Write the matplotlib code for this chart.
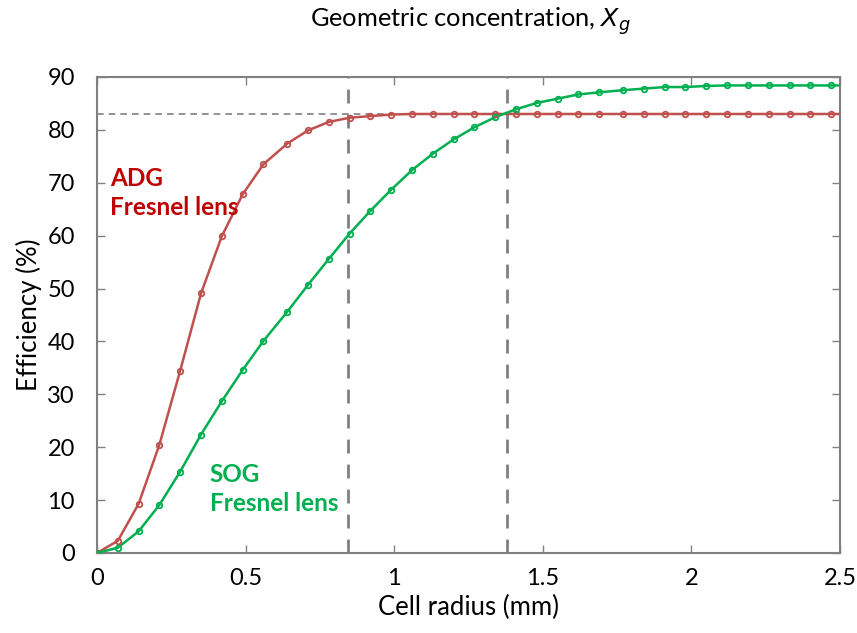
import matplotlib
matplotlib.use("Agg")
import matplotlib.pyplot as plt

plt.rcParams['font.family'] = ['Lato', 'DejaVu Sans']

# Cell radius (mm) for the sampled points
radius = [0.00, 0.07, 0.14, 0.21, 0.28, 0.35, 0.42, 0.49, 0.56, 0.64,
          0.71, 0.78, 0.85, 0.92, 0.99, 1.06, 1.13, 1.20, 1.27, 1.34,
          1.41, 1.48, 1.55, 1.62, 1.69, 1.77, 1.84, 1.91, 1.98, 2.05,
          2.12, 2.19, 2.26, 2.33, 2.40, 2.47]

adg = [0.0, 2.3, 9.3, 20.5, 34.5, 49.1, 59.9, 67.8, 73.5, 77.4,
       79.9, 81.5, 82.3, 82.6, 82.9, 83.0, 83.0, 83.0, 83.0, 83.0,
       83.0, 83.0, 83.0, 83.0, 83.0, 83.0, 83.0, 83.0, 83.0, 83.0,
       83.0, 83.0, 83.0, 83.0, 83.0, 83.0]

sog = [0.0, 1.0, 4.1, 9.1, 15.4, 22.4, 28.7, 34.6, 40.1, 45.6,
       50.7, 55.6, 60.4, 64.7, 68.7, 72.4, 75.5, 78.2, 80.5, 82.4,
       83.9, 85.1, 85.9, 86.7, 87.1, 87.5, 87.8, 88.1, 88.1, 88.3,
       88.4, 88.4, 88.4, 88.4, 88.4, 88.4]

# line continuation to the axis edge
x_end = 2.5
adg_end = 83.0
sog_end = 88.4

ref_eff = 83.0
ref_radius = [0.845, 1.378]

xticks = [0, 0.5, 1, 1.5, 2, 2.5]
xticklabels = ['0', '0.5', '1', '1.5', '2', '2.5']
yticks = list(range(0, 91, 10))

red = '#C0504D'
red_text = '#C00000'
green = '#00B050'
grey = '#808080'

fig = plt.figure(figsize=(8.57, 6.33), dpi=100)
ax = fig.add_axes([0.1132, 0.1264, 0.8670, 0.752])

ax.axhline(ref_eff, color=grey, lw=1.2, ls=(0, (4, 3)), zorder=1)
for r in ref_radius:
    ax.axvline(r, color=grey, lw=2.0, ls=(0, (5, 4)), zorder=1)

ax.plot(radius + [x_end], adg + [adg_end], color=red, lw=1.8, zorder=3)
ax.plot(radius, adg, ls='none', marker='o', ms=4, mfc='none', mec=red, mew=1.3, zorder=4)
ax.plot(radius + [x_end], sog + [sog_end], color=green, lw=1.8, zorder=3)
ax.plot(radius, sog, ls='none', marker='o', ms=4, mfc='none', mec=green, mew=1.3, zorder=4)

ax.set_xlim(0, 2.5)
ax.set_ylim(0, 90)
ax.set_xticks(xticks)
ax.set_xticklabels(xticklabels)
ax.set_yticks(yticks)
ax.tick_params(direction='in', length=6, width=1.0, color=grey,
               top=True, right=True, labelsize=17)
ax.tick_params(axis='y', pad=16)
ax.tick_params(axis='x', pad=11)
for s in ax.spines.values():
    s.set_color(grey)
    s.set_linewidth(1.5)

ax.set_xlabel('Cell radius (mm)', fontsize=18.5, labelpad=4)
ax.set_ylabel('Efficiency (%)', fontsize=18.5, labelpad=4)
fig.text(0.549, 0.966, r'Geometric concentration, $\mathit{X_g}$', fontsize=18.3,
         ha='center', va='center')

ax.text(0.045, 70.8, 'ADG', color=red_text, fontsize=17.5, fontweight='bold', va='center')
ax.text(0.045, 65.3, 'Fresnel lens', color=red_text, fontsize=17.5, fontweight='bold', va='center')
ax.text(0.38, 14.8, 'SOG', color=green, fontsize=17.5, fontweight='bold', va='center')
ax.text(0.38, 9.3, 'Fresnel lens', color=green, fontsize=17.5, fontweight='bold', va='center')

fig.savefig('out.png', dpi=100)
